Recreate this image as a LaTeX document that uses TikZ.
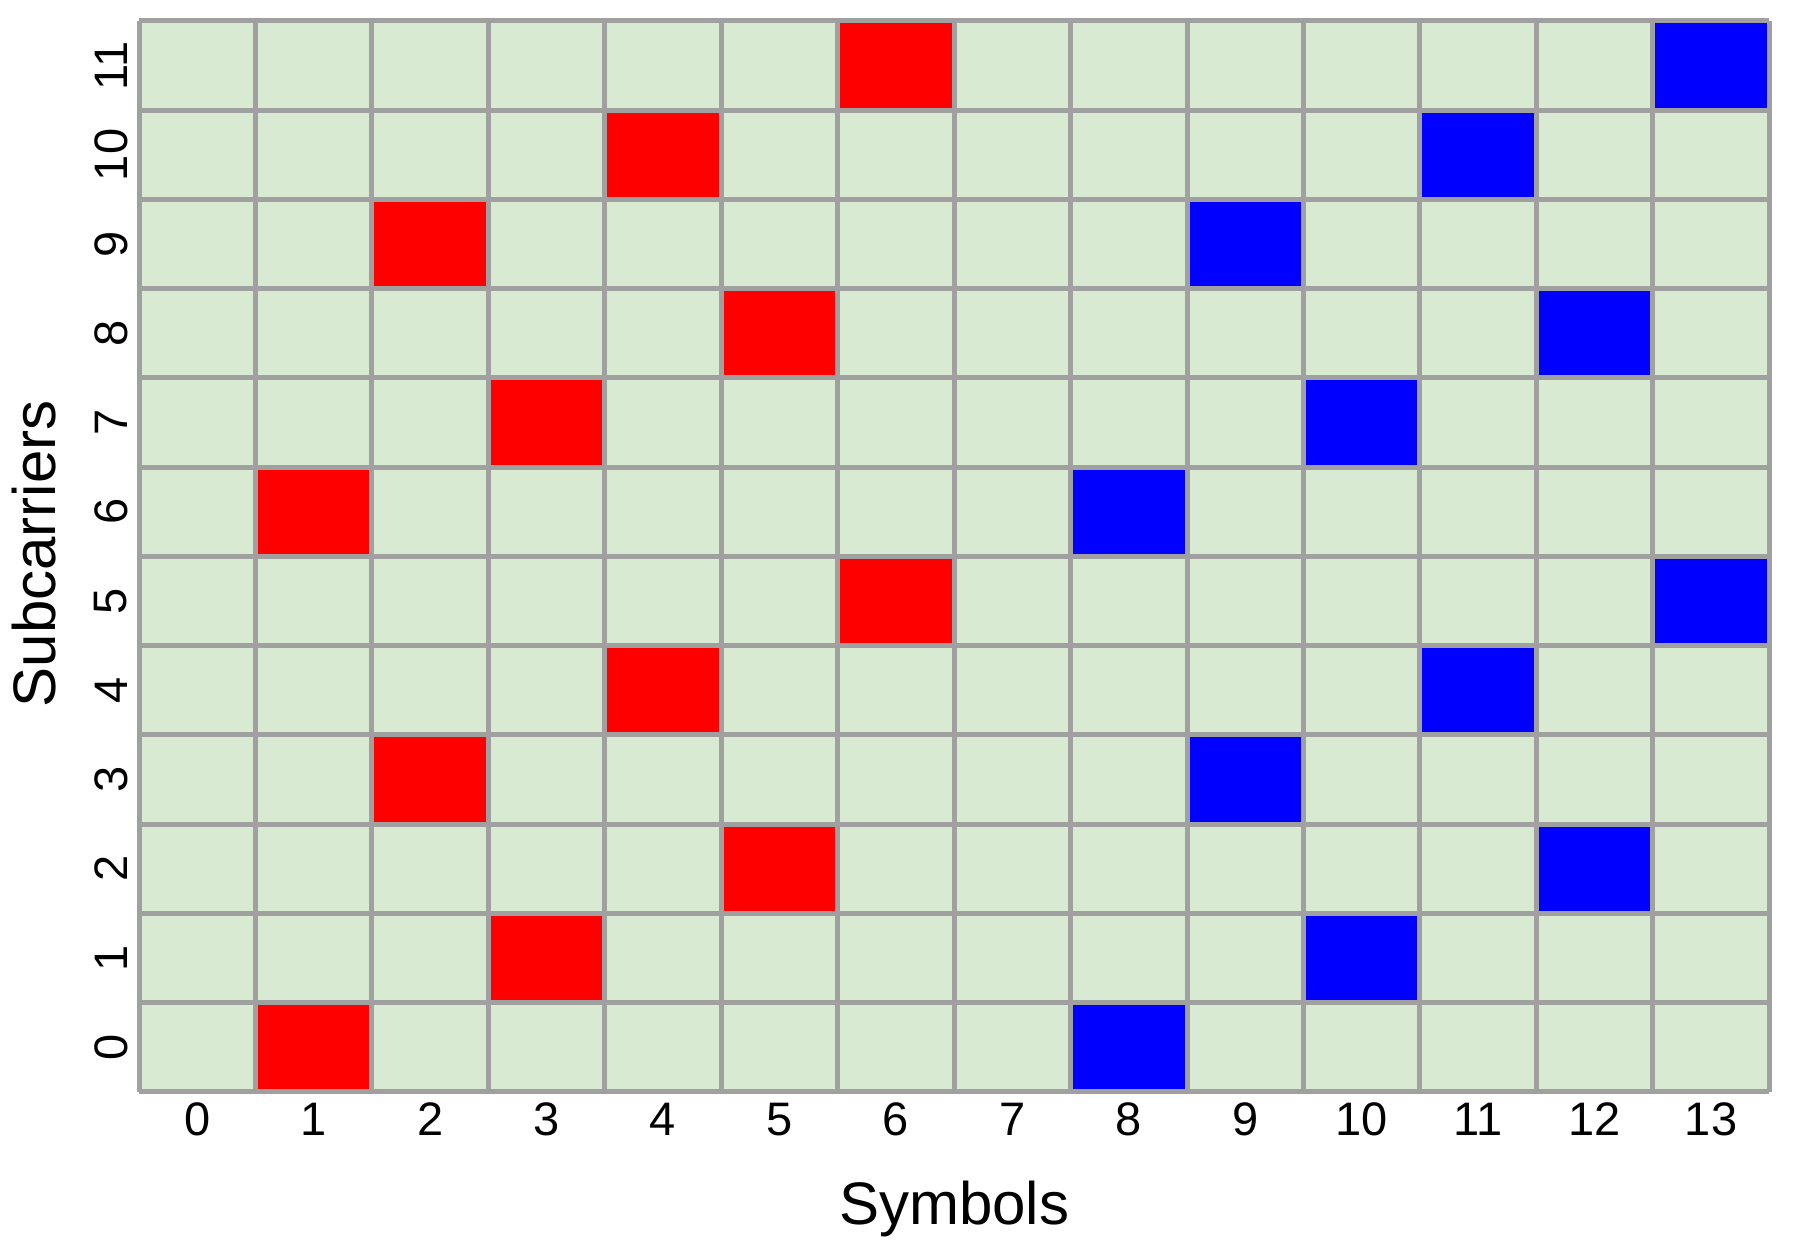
\documentclass[tikz,border=0pt]{standalone}
\usepackage{fontspec}
\setmainfont{Liberation Sans}
\definecolor{cellbg}{RGB}{217,234,211}
\definecolor{gridgray}{RGB}{160,160,160}
\definecolor{pilotred}{RGB}{255,0,0}
\definecolor{pilotblue}{RGB}{0,0,255}
\tikzset{
  ticklabel/.style={inner sep=0pt, font=\fontsize{47}{56}\selectfont},
  axislabel/.style={inner sep=0pt, font=\fontsize{60}{72}\selectfont},
  gridline/.style={draw=gridgray, line width=5pt}
}
\begin{document}
\begin{tikzpicture}[x=116.45pt,y=89.25pt]
\useasboundingbox (-1.1937,-1.8711) rectangle (14.2035,12.2353);
\fill[cellbg] (0,0) rectangle (14,12);
\foreach \c/\r in {1/0,3/1,5/2,2/3,4/4,6/5,1/6,3/7,5/8,2/9,4/10,6/11}
  \fill[pilotred] (\c,\r) rectangle ++(1,1);
\foreach \c/\r in {8/0,10/1,12/2,9/3,11/4,13/5,8/6,10/7,12/8,9/9,11/10,13/11}
  \fill[pilotblue] (\c,\r) rectangle ++(1,1);
\foreach \c in {0,...,14}
  \draw[gridline] (\c,0) -- (\c,12);
\foreach \r in {0,...,12}
  \draw[gridline] (0,\r) -- (14,\r);
\foreach \c in {0,...,13}
  \node[ticklabel] (x\c) at (\c+0.5,-0.308) {\c};
\foreach \r in {0,...,11}
  \node[ticklabel, rotate=90] (y\r) at (-0.241,\r+0.5) {\r};
\node[axislabel, anchor=base] (xlabel) at (7,-1.490) {Symbols};
\node[axislabel, anchor=base, rotate=90] (ylabel) at (-0.7128,6.03) {Subcarriers};
\end{tikzpicture}
\end{document}
